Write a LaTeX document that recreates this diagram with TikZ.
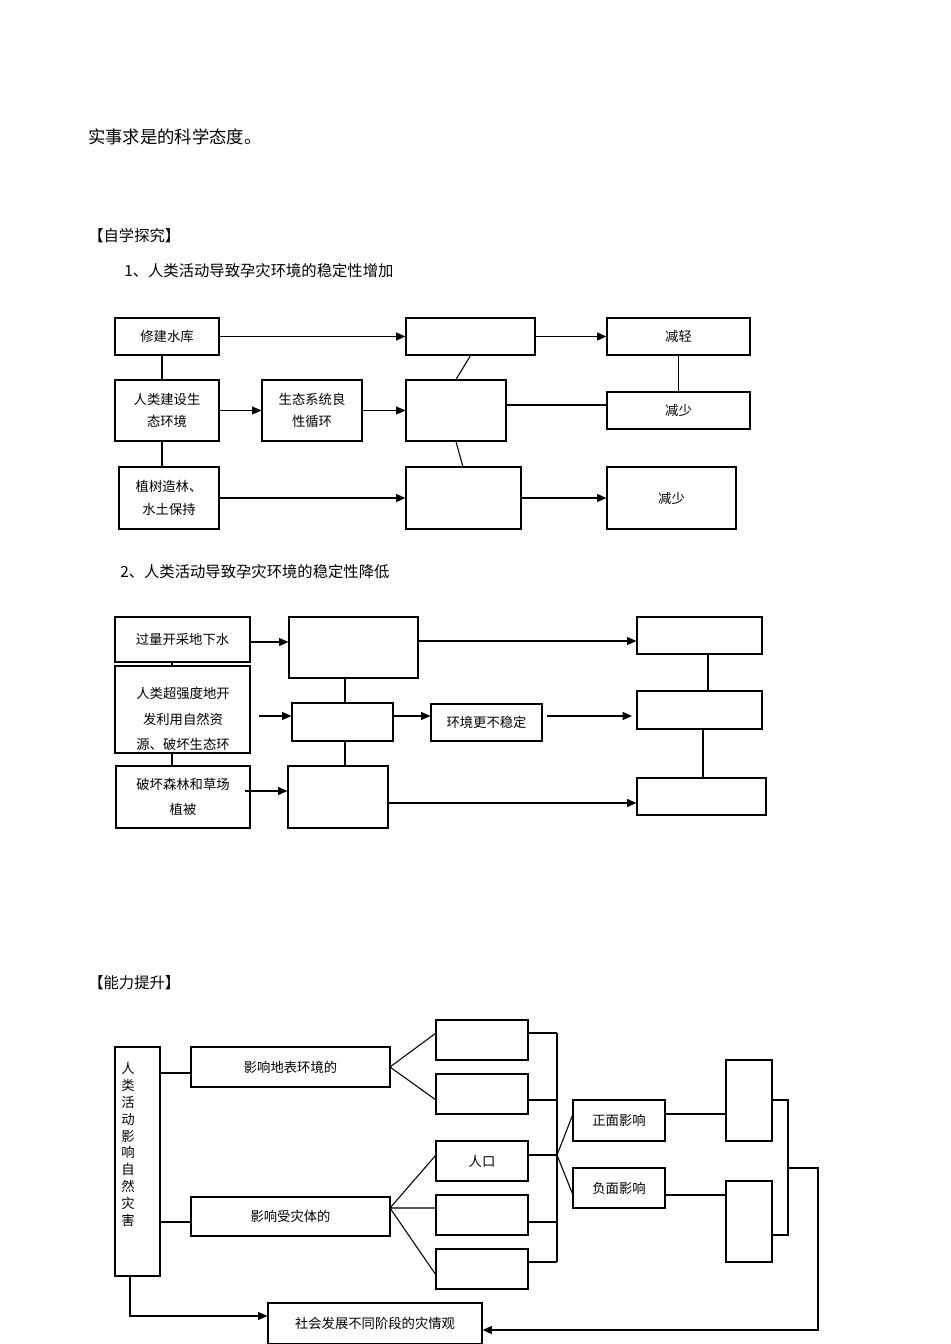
\documentclass[tikz,border=0pt]{standalone}
\usepackage{fontspec}
\setmainfont{Noto Sans CJK SC}
\usetikzlibrary{arrows.meta}
\begin{document}
\begin{tikzpicture}[x=0.75pt,y=-0.75pt,
  box/.style={draw,line width=0.9pt,inner sep=0pt,font=\fontsize{10}{13}\selectfont},
  ln/.style={line width=0.8pt},
  ar/.style={line width=0.8pt,-{Triangle[length=7pt,width=6pt]}},
  hd/.style={anchor=west,inner sep=0pt,font=\fontsize{11.5}{14}\selectfont}]
\useasboundingbox (0,0) rectangle (950,1344);
\newcommand\bx[6]{\node[box,minimum width={(#4-#2)*0.75pt},minimum height={(#5-#3)*0.75pt},align=center] (#1) at ({(#2+#4)/2},{(#3+#5)/2}) {#6};}
\node[hd,font=\fontsize{13}{16}\selectfont] (t0) at (88,137) {实事求是的科学态度。};
\node[hd] (t1) at (88,236) {【自学探究】};
\node[hd] (t2) at (124,271) {1、人类活动导致孕灾环境的稳定性增加};
\node[hd] (t3) at (120,572) {2、人类活动导致孕灾环境的稳定性降低};
\node[hd] (t4) at (88,983) {【能力提升】};
% diagram 1
\bx{A}{115}{318}{219}{355}{修建水库}
\bx{B}{115}{380}{219}{441}{人类建设生\\[4pt]态环境}
\bx{C}{119}{467}{219}{529}{植树造林、\\[4pt]水土保持}
\bx{D}{262}{380}{362}{441}{生态系统良\\[4pt]性循环}
\bx{E}{406}{318}{535}{355}{}
\bx{F}{406}{380}{506}{441}{}
\bx{G}{406}{467}{521}{529}{}
\bx{H}{607}{318}{750}{355}{减轻}
\bx{I}{607}{392}{750}{429}{减少}
\bx{J}{607}{467}{736}{529}{减少}
\draw[ar] (A.east) -- (E.west);
\draw[ar] (E.east) -- (H.west);
\draw[ar] (B.east) -- (D.west);
\draw[ar] (D.east) -- (F.west);
\draw[ar] (C.east) -- (G.west);
\draw[ar] (G.east) -- (J.west);
\draw[ln] (162,355) -- (162,380) (162,441) -- (162,467);
\draw[ln] (E.south) -- (F.north) (F.south) -- (463,467);
\draw[ln] (506,405) -- (607,405);
\draw[ln] (H.south) -- (I.north);
% diagram 2
\bx{K}{115}{617}{250}{662}{过量开采地下水}
\bx{L}{115}{666}{250}{753}{}
\node[font=\fontsize{10}{13}\selectfont,align=center] (Lt) at (183,719) {人类超强度地开\\[6pt]发利用自然资\\[6pt]源、破坏生态环};
\bx{M}{116}{766}{250}{828}{破坏森林和草场\\[6pt]植被}
\bx{N}{289}{617}{418}{678}{}
\bx{O}{292}{703}{393}{741}{}
\bx{P}{288}{766}{388}{828}{}
\bx{Q}{431}{704}{542}{741}{\raisebox{-6pt}{环境更不稳定}}
\bx{R}{637}{617}{762}{654}{}
\bx{S}{637}{691}{762}{729}{}
\bx{T}{637}{778}{766}{815}{}
\coordinate (l0) at (259,716);
\coordinate (q0) at (547,716);
\coordinate (m0) at (245,791);
\draw[ar] (250,642) -- (N.west |- 0,642);
\draw[ar] (l0) -- (O.west |- l0);
\draw[ar] (O.east |- l0) -- (Q.west |- l0);
\draw[ar] (q0) -- (632,716);
\draw[ar] (N.east |- 0,641) -- (R.west |- 0,641);
\draw[ar] (m0) -- (P.west |- m0);
\draw[ar] (P.east |- 0,803) -- (T.west |- 0,803);
\draw[ln] (172,662) -- (172,666) (172,753) -- (172,766);
\draw[ln] (345,678) -- (345,703) (345,741) -- (345,766);
\draw[ln] (708,654) -- (708,691) (703,729) -- (703,778);
% diagram 3
\bx{V}{115}{1047}{160}{1276}{}
\node[font=\fontsize{10}{12.6}\selectfont,align=center,anchor=north] (Vt) at (128,1058) {人\\类\\活\\动\\影\\响\\自\\然\\灾\\害};
\bx{W}{191}{1047}{390}{1087}{影响地表环境的}
\bx{X}{191}{1197}{390}{1236}{影响受灾体的}
\bx{B1}{436}{1020}{528}{1060}{}
\bx{B2}{436}{1074}{528}{1114}{}
\bx{B3}{436}{1141}{528}{1181}{人口}
\bx{B4}{436}{1195}{528}{1235}{}
\bx{B5}{436}{1249}{528}{1289}{}
\bx{Z1}{573}{1100}{665}{1141}{正面影响}
\bx{Z2}{573}{1168}{665}{1208}{负面影响}
\bx{R1}{726}{1060}{772}{1141}{}
\bx{R2}{726}{1181}{772}{1262}{}
\bx{SS}{268}{1303}{482}{1344}{社会发展不同阶段的灾情观}
\draw[ln] (160,1073) -- (191,1073) (160,1222) -- (191,1222);
\draw[ln] (390,1067) -- (436,1033) (390,1067) -- (436,1100);
\draw[ln] (390,1208) -- (436,1155) (390,1208) -- (436,1208) (390,1208) -- (436,1275);
\draw[ln] (528,1033) -- (557,1033) (528,1100) -- (557,1100) (528,1155) -- (557,1155) (528,1222) -- (557,1222) (528,1262) -- (557,1262);
\draw[ln] (557,1033) -- (557,1262);
\draw[ln] (557,1155) -- (573,1114) (557,1155) -- (573,1195);
\draw[ln] (665,1114) -- (726,1114) (665,1195) -- (726,1195);
\draw[ln] (772,1100) -- (788,1100) -- (788,1235) -- (772,1235);
\draw[ar] (788,1168) -- (818,1168) -- (818,1330) -- (SS.east |- 0,1330);
\draw[ar] (130,1276) -- (130,1316) -- (SS.west |- 0,1316);
\end{tikzpicture}
\end{document}
